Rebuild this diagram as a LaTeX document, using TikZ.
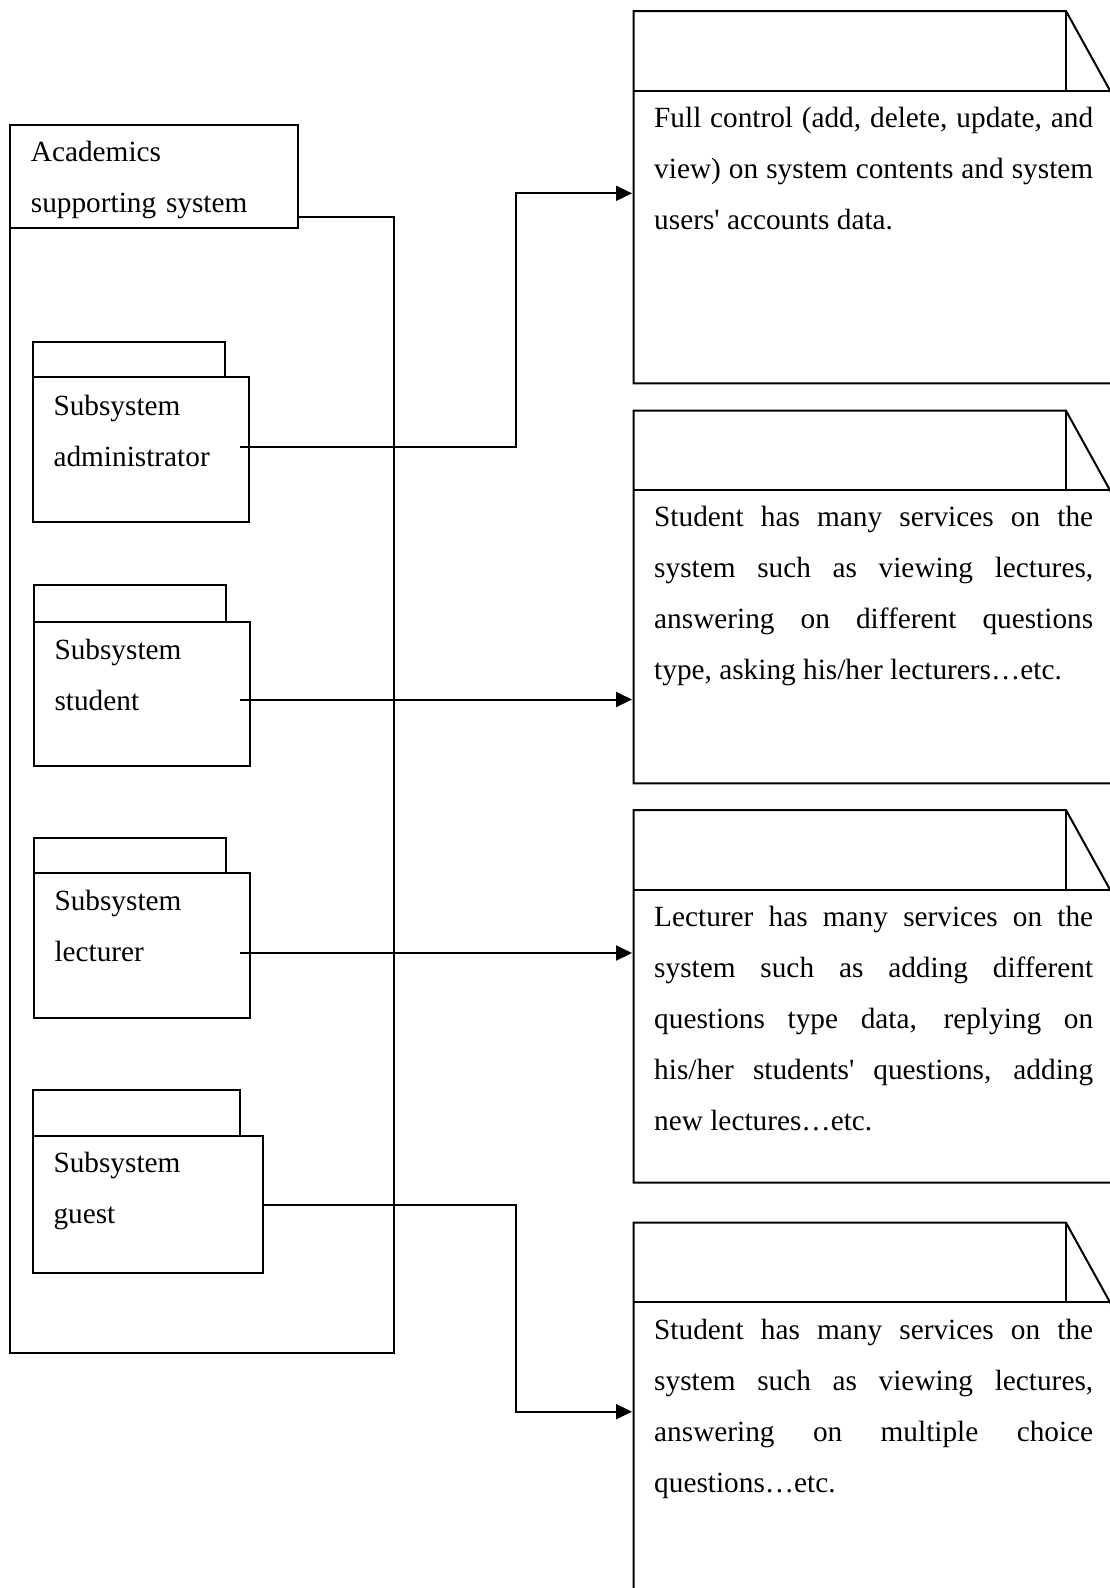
\documentclass[tikz,border=0pt]{standalone}
\usepackage{fontspec}
\setmainfont{Liberation Serif}
\usetikzlibrary{arrows.meta}

\tikzset{
  outline/.style={draw=black, line width=2pt, line join=miter},
  box/.style={outline, fill=white, rectangle, inner sep=0pt, outer sep=0pt, anchor=north west},
  label/.style={inner sep=0pt, anchor=base west, text width=#1, align=left,
                font=\fontsize{29.3}{51}\selectfont},
  notetext/.style={inner sep=0pt, anchor=base west, text width=439pt, align=justify,
                font=\fontsize{29.3}{51}\selectfont},
  conn/.style={draw=black, line width=2pt, -{Triangle[length=16pt,width=15pt]}},
}

\begin{document}
\begin{tikzpicture}[x=1pt, y=-1pt]
  \useasboundingbox (0,0) rectangle (1110,1588);
  \clip (0,0) rectangle (1110,1588);
  \fill[white] (0,0) rectangle (1110,1588);

  % outer package: body, then its name tab on top
  \node[box, minimum width=384pt, minimum height=1136.6pt] (sysbody) at (10,216.7) {};
  \node[box, minimum width=288.3pt, minimum height=103.3pt] (systab) at (10,125) {};
  \node[label=260pt] (systitle) at (30.7,161.7) {Academics\\supporting system};

  % subsystem packages
  \node[box, minimum width=192.6pt, minimum height=35.6pt] (admintab) at (32.7,341.7) {};
  \node[box, minimum width=216.6pt, minimum height=144.4pt] (adminbody) at (32.7,377.3) {};
  \node[label=190pt] (adminlbl) at (53.3,415) {Subsystem\\administrator};

  \node[box, minimum width=192pt, minimum height=36.7pt] (studenttab) at (34,585) {};
  \node[box, minimum width=216pt, minimum height=144pt] (studentbody) at (34,621.7) {};
  \node[label=190pt] (studentlbl) at (54.3,659) {Subsystem\\student};

  \node[box, minimum width=192pt, minimum height=35pt] (lecturertab) at (34,838.3) {};
  \node[box, minimum width=216pt, minimum height=144.4pt] (lecturerbody) at (34,873.3) {};
  \node[label=190pt] (lecturerlbl) at (54.3,910.7) {Subsystem\\lecturer};

  \node[box, minimum width=207.3pt, minimum height=46pt] (guesttab) at (32.7,1090) {};
  \node[box, minimum width=230.6pt, minimum height=137.3pt] (guestbody) at (32.7,1136) {};
  \node[label=190pt] (guestlbl) at (53.3,1172) {Subsystem\\guest};

  % notes with folded corner
  \foreach \t/\b in {11/383.3, 410.7/783.3, 810/1182.7, 1222.7/1640}{
    \draw[outline] (1113,\b) -- (633.5,\b) -- (633.5,\t) -- (1066,\t) -- (1113,\t+85);
    \draw[outline] (633.5,\t+79.5) -- (1113,\t+79.5);
    \draw[outline] (1066,\t) -- (1066,\t+79.5);
  }

  \node[notetext] (note1) at (654,127.7)
    {Full control (add, delete, update, and\linebreak
     view) on system contents and system\linebreak
     users\textquotesingle{} accounts data.};
  \node[notetext] (note2) at (654,526.7)
    {Student has many services on the\linebreak
     system such as viewing lectures,\linebreak
     answering on different questions\linebreak
     type, asking his/her lecturers…etc.};
  \node[notetext] (note3) at (654,926.7)
    {Lecturer has many services on the\linebreak
     system such as adding different\linebreak
     questions type data, replying on\linebreak
     his/her students\textquotesingle{} questions, adding\linebreak
     new lectures…etc.};
  \node[notetext] (note4) at (654,1339.3)
    {Student has many services on the\linebreak
     system such as viewing lectures,\linebreak
     answering on multiple choice\linebreak
     questions…etc.};

  % connector end points
  \coordinate (adminport) at (240,446.7);
  \coordinate (studentport) at (239.5,699.5);
  \coordinate (lecturerport) at (240,953);
  \coordinate (guestport) at (263.3,1204.7);
  \coordinate (bend1) at (516,193.3);
  \coordinate (bend4) at (516,1411.7);
  \coordinate (in1) at (632,193.3);
  \coordinate (in2) at (632,699.5);
  \coordinate (in3) at (632,953);
  \coordinate (in4) at (632,1411.7);

  \draw[conn] (adminport) -| (bend1) -- (in1);
  \draw[conn] (studentport) -- (in2);
  \draw[conn] (lecturerport) -- (in3);
  \draw[conn] (guestport) -| (bend4) -- (in4);
\end{tikzpicture}
\end{document}
